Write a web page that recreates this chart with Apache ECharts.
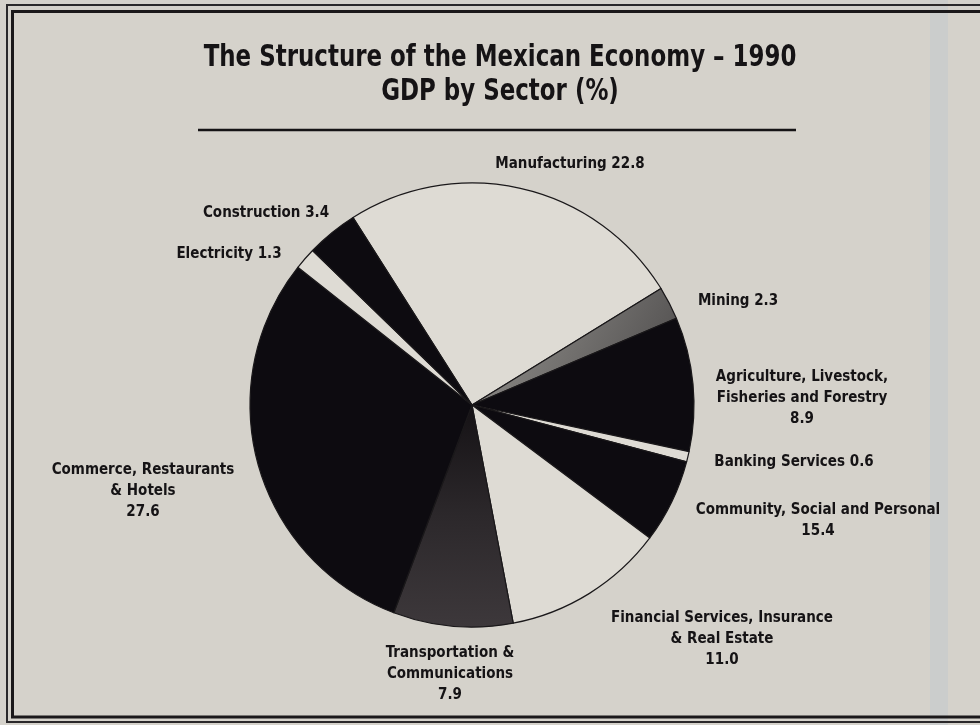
<!DOCTYPE html>
<html>
<head>
<meta charset="utf-8">
<script src="https://cdn.jsdelivr.net/npm/echarts@6/dist/echarts.min.js"></script>
<style>
html,body{margin:0;padding:0;background:#d5d2cb;}
#chart{width:980px;height:725px;}
</style>
</head>
<body>
<div id="chart"></div>
<script>
// Sector names (clockwise from the top-left edge of Manufacturing)
const sectors = [
  'Manufacturing', 'Mining', 'Agriculture, Livestock, Fisheries and Forestry',
  'Banking Services', 'Community, Social and Personal',
  'Financial Services, Insurance & Real Estate', 'Transportation & Communications',
  'Commerce, Restaurants & Hotels', 'Electricity', 'Construction'
];
// Printed values (% of GDP) as labelled on the chart
const printedValues = ['22.8', '2.3', '8.9', '0.6', '15.4', '11.0', '7.9', '27.6', '1.3', '3.4'];
// Slice shares as drawn in the picture (measured from the slice angles)
const sliceShares = [25.2, 2.4, 9.75, 0.75, 6.1, 11.8, 8.7, 29.9, 1.6, 3.75];
// Label text as printed (line breaks as in the picture)
const labelTexts = [
  'Manufacturing 22.8',
  'Mining 2.3',
  'Agriculture, Livestock,\nFisheries and Forestry\n8.9',
  'Banking Services 0.6',
  'Community, Social and Personal\n15.4',
  'Financial Services, Insurance\n& Real Estate\n11.0',
  'Transportation &\nCommunications\n7.9',
  'Commerce, Restaurants\n& Hotels\n27.6',
  'Electricity 1.3',
  'Construction 3.4'
];
const titleText = 'The Structure of the Mexican Economy – 1990\nGDP by Sector (%)';

// layout / style (kept apart from the data)
const labelPos = [
  [570, 164], [738, 301], [802, 398], [794, 462],
  [818, 521], [722, 639], [450, 674], [143, 491],
  [229, 254], [266, 213]
];
const BLACK = '#0d0b10';
const PAPER = '#dedbd4';
const sliceColors = [
  PAPER,
  {type: 'linear', x: 0, y: 0, x2: 1, y2: 1, colorStops: [{offset: 0, color: '#9a9894'}, {offset: 1, color: '#4a4848'}]},
  BLACK, PAPER, BLACK, PAPER,
  {type: 'linear', x: 0, y: 0, x2: 0, y2: 1, colorStops: [{offset: 0, color: '#151215'}, {offset: 0.5, color: '#2c282b'}, {offset: 1, color: '#3d383b'}]},
  BLACK, PAPER, BLACK
];

const FONT = '"Liberation Sans Narrow", "DejaVu Sans Condensed", sans-serif';
const chart = echarts.init(document.getElementById('chart'), null, {renderer: 'canvas'});

chart.setOption({
  backgroundColor: '#d5d2cb',
  animation: false,
  graphic: [
    {type: 'rect', shape: {x: 930, y: 0, width: 18, height: 725}, style: {fill: 'rgba(185,198,205,0.35)'}, silent: true, z: -1},
    {type: 'text', x: 500, y: 41, scaleX: 0.85,
      style: {text: titleText, fill: '#151315', font: 'bold 30px ' + FONT, textAlign: 'center', lineHeight: 34}},
    {type: 'line', shape: {x1: 198, y1: 130, x2: 796, y2: 130}, style: {stroke: '#151315', lineWidth: 2.5}},
    {type: 'polyline', shape: {points: [[990, 5], [7, 5], [7, 722], [990, 722]]}, style: {stroke: '#2a282a', lineWidth: 2, fill: null}},
    {type: 'polyline', shape: {points: [[990, 11.5], [12.5, 11.5], [12.5, 717], [990, 717]]}, style: {stroke: '#1a181a', lineWidth: 3, fill: null}}
  ],
  series: [{
    type: 'pie',
    center: [472, 405],
    radius: 222,
    startAngle: 122.4,
    clockwise: true,
    avoidLabelOverlap: false,
    itemStyle: {borderColor: '#1a181a', borderWidth: 1.2},
    emphasis: {disabled: true},
    label: {
      show: true,
      formatter: p => labelTexts[p.dataIndex],
      fontFamily: FONT, fontWeight: 'bold', fontSize: 15, lineHeight: 21,
      color: '#151315', align: 'center'
    },
    labelLine: {show: false},
    labelLayout: p => ({
      x: labelPos[p.dataIndex][0], y: labelPos[p.dataIndex][1],
      align: 'center', verticalAlign: 'middle'
    }),
    data: sectors.map((name, i) => ({
      name, value: sliceShares[i], printed: printedValues[i],
      itemStyle: {color: sliceColors[i]}
    }))
  }]
});
</script>
</body>
</html>
